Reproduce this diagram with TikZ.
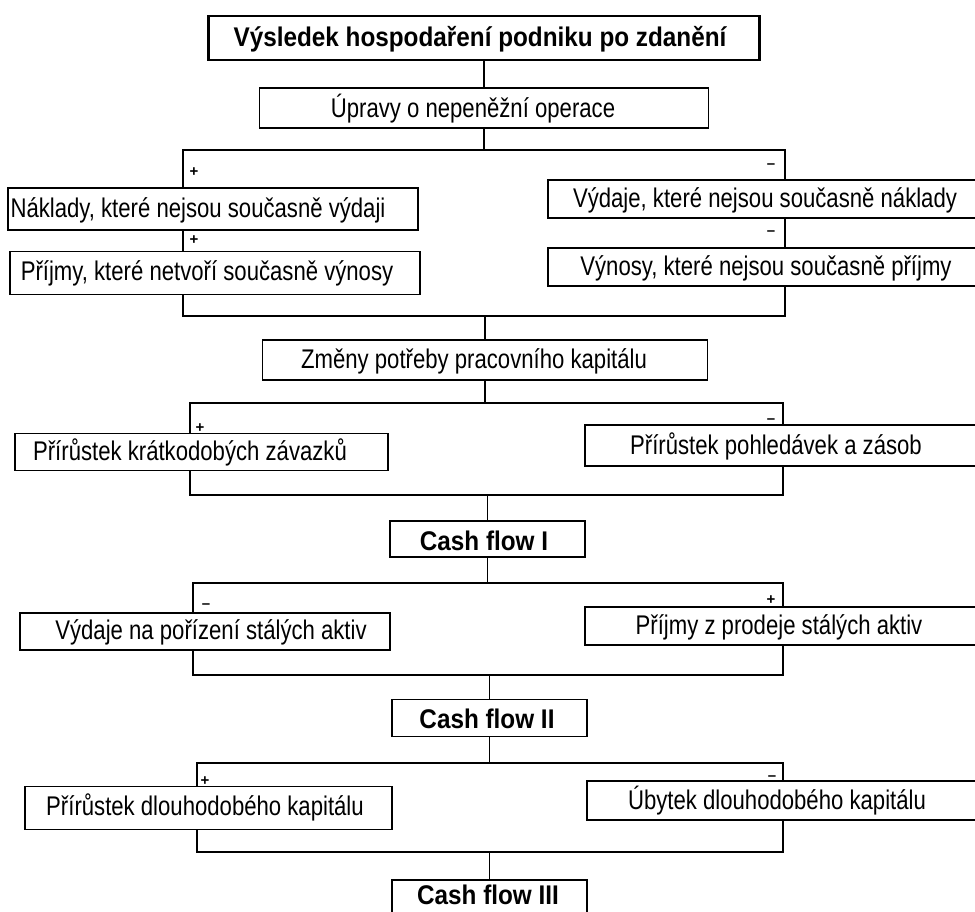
\documentclass[tikz,border=0pt]{standalone}
\usepackage{fontspec}
\setmainfont{Liberation Sans}
\newfontfamily\condensed[FakeStretch=0.82]{Liberation Sans}
\newfontfamily\condensedbold[FakeStretch=0.9]{Liberation Sans Bold}
\begin{document}
\begin{tikzpicture}[x=1pt,y=-1pt,
  frame/.style={draw, line width=1.8pt, fill=white, inner sep=0pt},
  lbl/.style={inner sep=0pt, font=\condensed\fontsize{27}{30}\selectfont},
  head/.style={inner sep=0pt, font=\condensedbold\fontsize{27}{30}\selectfont},
  sign/.style={inner sep=0pt, font=\fontsize{15}{17}\selectfont\bfseries},
  link/.style={line width=1.4pt}]
\useasboundingbox (0,0) rectangle (975,911);
\clip (0,0) rectangle (975,911);

% bracket corners and their mid points
\coordinate (b1nw) at (183,150); \coordinate (b1se) at (785,316);
\coordinate (b1n) at (484,150);  \coordinate (b1s) at (485,316);
\coordinate (b2nw) at (190,403); \coordinate (b2se) at (783,495);
\coordinate (b2n) at (485,403);  \coordinate (b2s) at (487.5,495);
\coordinate (b3nw) at (193,583); \coordinate (b3se) at (783,675);
\coordinate (b3n) at (487.5,583);  \coordinate (b3s) at (489.5,675);
\coordinate (b4nw) at (197,763); \coordinate (b4se) at (783,852);
\coordinate (b4n) at (489.5,763);  \coordinate (b4s) at (489.5,852);

\foreach \b in {1,2,3,4} \draw[link] (b\b nw) rectangle (b\b se);

% main chain
\node[frame, line width=2.6pt, minimum width=551pt, minimum height=44pt] (top) at (484,38) {};
\node[head] (ttop) at (480,39) {Výsledek hospodaření podniku po zdanění};
\node[frame, minimum width=449pt, minimum height=40pt] (upr) at (484,108) {};
\node[lbl] (tupr) at (473,109) {Úpravy o nepeněžní operace};
\node[frame, minimum width=445pt, minimum height=40pt] (zm) at (485,360) {};
\node[lbl] (tzm) at (474,361) {Změny potřeby pracovního kapitálu};
\node[frame, minimum width=195pt, minimum height=36pt] (cf1) at (487.5,539) {};
\node[head] (tcf1) at (484,541) {Cash flow I};
\node[frame, minimum width=195pt, minimum height=37pt] (cf2) at (489.5,718) {};
\node[head] (tcf2) at (487,719) {Cash flow II};
\node[frame, minimum width=195pt, minimum height=44pt] (cf3) at (489.5,902) {};
\node[head] (tcf3) at (488,895) {Cash flow III};

% side items
\node[frame, minimum width=410pt, minimum height=42pt] (l1) at (213,209) {};
\node[lbl] (tl1) at (198,210) {Náklady, které nejsou současně výdaji};
\node[frame, minimum width=437pt, minimum height=38pt] (r1) at (766.5,199) {};
\node[lbl] (tr1) at (765,200) {Výdaje, které nejsou současně náklady};
\node[frame, minimum width=410pt, minimum height=43pt] (l2) at (215,273) {};
\node[lbl] (tl2) at (207,273) {Příjmy, které netvoří současně výnosy};
\node[frame, minimum width=437pt, minimum height=38pt] (r2) at (766.5,267) {};
\node[lbl] (tr2) at (766,268) {Výnosy, které nejsou současně příjmy};

\node[frame, minimum width=373pt, minimum height=37pt] (l3) at (201.5,452) {};
\node[lbl] (tl3) at (190,452) {Přírůstek krátkodobých závazků};
\node[frame, minimum width=400pt, minimum height=41pt] (r3) at (785,445.5) {};
\node[lbl] (tr3) at (776,446) {Přírůstek pohledávek a zásob};

\node[frame, minimum width=370pt, minimum height=37pt] (l4) at (205,631.5) {};
\node[lbl] (tl4) at (211,632) {Výdaje na pořízení stálých aktiv};
\node[frame, minimum width=400pt, minimum height=38pt] (r4) at (785,626) {};
\node[lbl] (tr4) at (779,627) {Příjmy z prodeje stálých aktiv};

\node[frame, minimum width=367pt, minimum height=43pt] (l5) at (208.5,808) {};
\node[lbl] (tl5) at (205,807) {Přírůstek dlouhodobého kapitálu};
\node[frame, minimum width=398pt, minimum height=39pt] (r5) at (786,800.5) {};
\node[lbl] (tr5) at (777,801) {Úbytek dlouhodobého kapitálu};

% signs
\node[sign] (s1a) at (194,172) {+};
\node[sign] (s1b) at (771,166) {--};
\node[sign] (s1c) at (194,240) {+};
\node[sign] (s1d) at (771,233) {--};
\node[sign] (s2a) at (200,428) {+};
\node[sign] (s2b) at (771,421) {--};
\node[sign] (s3a) at (206,606) {--};
\node[sign] (s3b) at (771,600) {+};
\node[sign] (s4a) at (205,781) {+};
\node[sign] (s4b) at (772,778) {--};

% vertical connectors
\draw[link] (top.south) -- (upr.north);
\draw[link] (upr.south) -- (b1n);
\draw[link] (b1s) -- (zm.north);
\draw[link] (zm.south) -- (b2n);
\draw[link] (b2s) -- (cf1.north);
\draw[link] (cf1.south) -- (b3n);
\draw[link] (b3s) -- (cf2.north);
\draw[link] (cf2.south) -- (b4n);
\draw[link] (b4s) -- (cf3.north);
\end{tikzpicture}
\end{document}
